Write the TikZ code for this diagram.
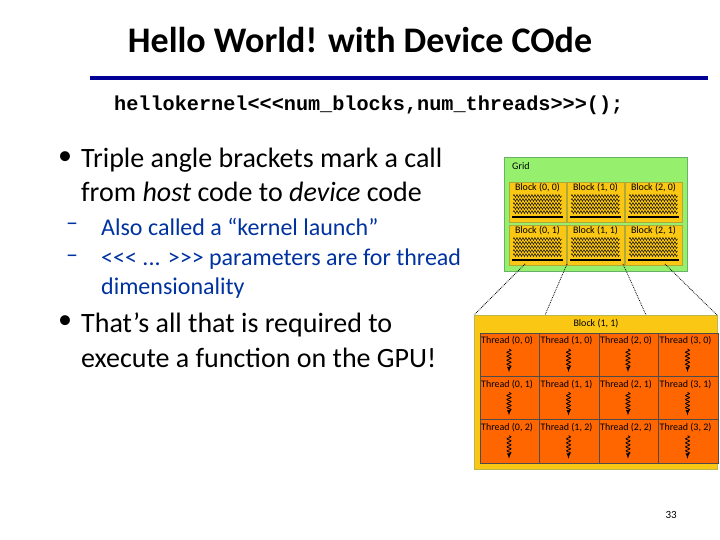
\documentclass[tikz,border=0pt]{standalone}
\usepackage{fontspec}
\setmainfont{Carlito}
\setmonofont{Liberation Mono}
\usetikzlibrary{decorations.pathmorphing}
\definecolor{rule}{RGB}{0,0,150}
\definecolor{sub}{RGB}{0,50,160}
\definecolor{gridg}{RGB}{150,240,110}
\definecolor{blky}{RGB}{250,200,20}
\definecolor{thr}{RGB}{255,102,0}
\tikzset{
 txt/.style={anchor=west,inner sep=0pt,font=\fontsize{28}{32}\selectfont},
 subtxt/.style={anchor=west,inner sep=0pt,font=\fontsize{24}{26}\selectfont,text=sub},
 tiny/.style={inner sep=0pt,font=\fontsize{10}{11}\selectfont},
 wave/.style={decorate,decoration={snake,amplitude=2pt,segment length=4pt,post length=3pt},thick,-latex},
 dotl/.style={densely dotted,thick}
}
\begin{document}
\begin{tikzpicture}[x=1pt,y=-1pt]
\useasboundingbox (0,0) rectangle (720,540);
\node (title) at (360,40) {\fontsize{36}{40}\selectfont\bfseries Hello World! with Device COde};
\draw[rule,line width=4pt] (90,78) -- (708,78);
\node[anchor=west,inner sep=0pt] (code) at (114,105) {\fontsize{20.2}{22}\selectfont\ttfamily\bfseries hellokernel<<<num\_blocks,num\_threads>>>();};
\node[txt] (b1) at (58,158) {•};
\node[txt] (t1) at (81,160) {Triple angle brackets mark a call};
\node[txt] (t1b) at (81,192) {from \emph{host} code to \emph{device} code};
\node[subtxt] (d1) at (66,227) {–};
\node[subtxt] (s1) at (101,227) {Also called a “kernel launch”};
\node[subtxt] (d2) at (66,259) {–};
\node[subtxt] (s2) at (101,259) {{<}{<}{<} ... {>}{>}{>} parameters are for thread};
\node[subtxt] (s2b) at (101,288) {dimensionality};
\node[txt] (b2) at (58,322) {•};
\node[txt] (t2) at (81,325) {That’s all that is required to};
\node[txt] (t2b) at (81,358) {execute a function on the GPU!};
\node[anchor=east,inner sep=0pt,font=\fontsize{11}{12}\selectfont] (pg) at (677,515) {33};
% grid
\draw[fill=gridg,draw=green!50!black!60] (504,157) rectangle (687,271);
\node[tiny,anchor=west] (gl) at (512,166) {Grid};
\foreach \i/\x in {0/509,1/567,2/625}{
 \foreach \j/\y in {0/182,1/225}{
  \draw[fill=blky,draw=olive!70] (\x,\y) rectangle (\x+57,\y+40);
  \node[tiny] (blk\i\j) at (\x+28.5,\y+6) {Block (\i, \j)};
  \foreach \k in {0,1,2,3,4}{
   \draw[decorate,decoration={snake,amplitude=1.5pt,segment length=3pt}] (\x+4,\y+14+\k*4) -- (\x+53,\y+14+\k*4);
  }
  \draw[line width=2pt] (\x+3,\y+35) -- (\x+54,\y+35);
 }}
% block 1,1 enlarged
\draw[fill=blky,draw=olive!60] (474,315) rectangle (717,469);
\node[tiny] (bigl) at (596,324) {Block (1, 1)};
\foreach \i in {0,...,3}{
 \foreach \j in {0,...,2}{
  \draw[fill=thr,draw=black!70] (480+\i*59.5,333+\j*43.3) rectangle (480+\i*59.5+59.5,333+\j*43.3+43.3);
  \node[tiny,anchor=west] (th\i\j) at (481+\i*59.5,341+\j*43.3) {Thread (\i, \j)};
  \draw[wave] (480+\i*59.5+29,349+\j*43.3) -- (480+\i*59.5+29,372+\j*43.3);
 }}
% dotted lines
\draw[dotl] (525,264) -- (474,315);
\draw[dotl] (567,264) -- (545,315);
\draw[dotl] (623,264) -- (646,315);
\draw[dotl] (665,264) -- (717,315);
\end{tikzpicture}
\end{document}
